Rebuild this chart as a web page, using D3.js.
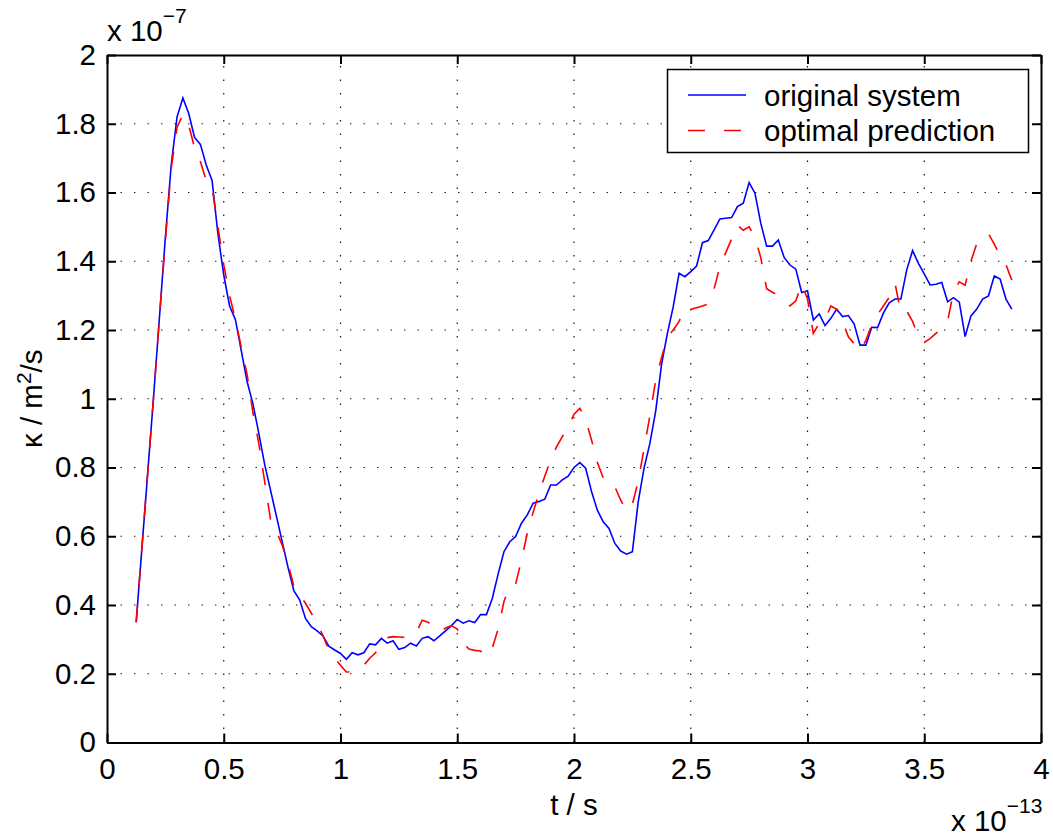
<!DOCTYPE html>
<html>
<head>
<meta charset="utf-8">
<script src="https://cdn.jsdelivr.net/npm/d3@7"></script>
<style>
  html, body { margin: 0; padding: 0; background: #fff; }
  svg { display: block; font-family: "Liberation Sans", Arial, Helvetica, sans-serif; }
</style>
</head>
<body>
<svg id="chart" width="1053" height="836"></svg>
<script>
// Thermal diffusivity kappa (units of 1e-7 m^2/s) sampled every 0.025e-13 s from t = 0.125e-13 s
const tStart = 0.125;
const tStep = 0.025;

const originalSystem = [
  0.35, 0.57, 0.79, 1.01, 1.24, 1.47, 1.68, 1.82, 1.875, 1.83,
  1.76, 1.74, 1.68, 1.635, 1.48, 1.36, 1.27, 1.23, 1.14, 1.05,
  0.985, 0.90, 0.81, 0.735, 0.66, 0.585, 0.51, 0.442, 0.415, 0.361,
  0.337, 0.325, 0.31, 0.28, 0.269, 0.259, 0.242, 0.261, 0.255, 0.261,
  0.287, 0.284, 0.303, 0.289, 0.296, 0.271, 0.276, 0.289, 0.281, 0.303,
  0.308, 0.296, 0.31, 0.325, 0.34, 0.358, 0.347, 0.354, 0.349, 0.372,
  0.372, 0.419, 0.49, 0.555, 0.584, 0.599, 0.638, 0.662, 0.696, 0.701,
  0.708, 0.749, 0.749, 0.764, 0.775, 0.80, 0.814, 0.798, 0.73, 0.676,
  0.642, 0.623, 0.579, 0.557, 0.548, 0.555, 0.70, 0.798, 0.87, 0.965,
  1.10, 1.19, 1.268, 1.365, 1.355, 1.37, 1.386, 1.454, 1.46, 1.491,
  1.523, 1.525, 1.527, 1.559, 1.569, 1.629, 1.598, 1.51, 1.444, 1.444,
  1.462, 1.411, 1.389, 1.377, 1.309, 1.314, 1.229, 1.247, 1.213, 1.234,
  1.261, 1.239, 1.242, 1.217, 1.156, 1.156, 1.208, 1.207, 1.249, 1.279,
  1.29, 1.29, 1.375, 1.431, 1.394, 1.363, 1.331, 1.333, 1.338, 1.282,
  1.294, 1.281, 1.181, 1.241, 1.261, 1.29, 1.299, 1.357, 1.348, 1.29,
  1.261
];

const optimalPrediction = [
  0.35, 0.57, 0.79, 1.01, 1.24, 1.46, 1.67, 1.79, 1.826, 1.796,
  1.73, 1.69, 1.635, 1.615, 1.50, 1.39, 1.30, 1.23, 1.15, 1.07,
  0.96, 0.87, 0.76, 0.65, 0.615, 0.575, 0.52, 0.455, 0.43, 0.405,
  0.376, 0.35, 0.31, 0.27, 0.245, 0.225, 0.205, 0.205, 0.21, 0.225,
  0.245, 0.261, 0.285, 0.305, 0.308, 0.307, 0.306, 0.31, 0.32, 0.356,
  0.35, 0.337, 0.322, 0.333, 0.34, 0.33, 0.29, 0.272, 0.268, 0.266,
  0.25, 0.274, 0.33, 0.41, 0.456, 0.461, 0.53, 0.609, 0.67, 0.725,
  0.775, 0.822, 0.86, 0.89, 0.918, 0.955, 0.972, 0.94, 0.88, 0.815,
  0.77, 0.768, 0.744, 0.705, 0.674, 0.693, 0.76, 0.855, 0.95, 1.055,
  1.12, 1.18, 1.20, 1.225, 1.265, 1.26, 1.265, 1.27, 1.276, 1.32,
  1.385, 1.425, 1.465, 1.505, 1.49, 1.50, 1.47, 1.41, 1.32, 1.31,
  1.30, 1.285, 1.27, 1.285, 1.335, 1.29, 1.19, 1.22, 1.23, 1.27,
  1.26, 1.225, 1.18, 1.16, 1.14, 1.17, 1.215, 1.245, 1.27, 1.295,
  1.335, 1.25, 1.255, 1.225, 1.18, 1.164, 1.175, 1.19, 1.205, 1.225,
  1.31, 1.34, 1.33, 1.40, 1.452, 1.465, 1.48, 1.45, 1.415, 1.39,
  1.345
];

const seriesNames = ["original system", "optimal prediction"];

const xTicks = [0, 0.5, 1, 1.5, 2, 2.5, 3, 3.5, 4];
const xTickLabels = ["0", "0.5", "1", "1.5", "2", "2.5", "3", "3.5", "4"];
const yTicks = [0, 0.2, 0.4, 0.6, 0.8, 1, 1.2, 1.4, 1.6, 1.8, 2];
const yTickLabels = ["0", "0.2", "0.4", "0.6", "0.8", "1", "1.2", "1.4", "1.6", "1.8", "2"];

const svg = d3.select("#chart");
const plotLeft = 107, plotRight = 1041, plotTop = 55, plotBottom = 742.5;
const fontSize = 29.5;
const supSize = 21;

const x = d3.scaleLinear().domain([0, 4]).range([plotLeft, plotRight]);
const y = d3.scaleLinear().domain([0, 2]).range([plotBottom, plotTop]);

const times = originalSystem.map((_, i) => tStart + i * tStep);

// dotted grid
const grid = svg.append("g").attr("stroke", "#111").attr("stroke-width", 1.2)
  .attr("stroke-dasharray", "1.4,12.1");
grid.selectAll("line.gx").data(xTicks.slice(1, -1)).join("line")
  .attr("x1", d => x(d)).attr("x2", d => x(d)).attr("y1", plotBottom).attr("y2", plotTop);
grid.selectAll("line.gy").data(yTicks.slice(1, -1)).join("line")
  .attr("y1", d => y(d)).attr("y2", d => y(d)).attr("x1", plotLeft).attr("x2", plotRight);

// data lines
const line = d3.line().x((d, i) => x(times[i])).y(d => y(d));
svg.append("path").datum(originalSystem)
  .attr("fill", "none").attr("stroke", "#0000ff").attr("stroke-width", 1.6)
  .attr("d", line);
svg.append("path").datum(optimalPrediction)
  .attr("fill", "none").attr("stroke", "#ff0000").attr("stroke-width", 1.6)
  .attr("stroke-dasharray", "17,18").attr("d", line);

// axes with inward ticks
function styleAxis(g) {
  g.select(".domain").attr("stroke", "#000").attr("stroke-width", 2);
  g.selectAll(".tick line").attr("stroke", "#000").attr("stroke-width", 2);
  g.selectAll(".tick text").attr("font-size", fontSize).attr("fill", "#000")
    .attr("font-family", "Liberation Sans, Arial, Helvetica, sans-serif");
}

svg.append("g").attr("transform", `translate(0,${plotBottom})`)
  .call(d3.axisBottom(x).tickValues(xTicks).tickFormat((d, i) => xTickLabels[i])
    .tickSizeInner(-9).tickSizeOuter(0).tickPadding(16))
  .call(styleAxis);
svg.append("g").attr("transform", `translate(0,${plotTop})`)
  .call(d3.axisTop(x).tickValues(xTicks).tickFormat("").tickSizeInner(-9).tickSizeOuter(0))
  .call(styleAxis);
svg.append("g").attr("transform", `translate(${plotLeft},0)`)
  .call(d3.axisLeft(y).tickValues(yTicks).tickFormat((d, i) => yTickLabels[i])
    .tickSizeInner(-9).tickSizeOuter(0).tickPadding(11))
  .call(styleAxis);
svg.append("g").attr("transform", `translate(${plotRight},0)`)
  .call(d3.axisRight(y).tickValues(yTicks).tickFormat("").tickSizeInner(-9).tickSizeOuter(0))
  .call(styleAxis);

// exponent labels
const expY = svg.append("text").attr("x", plotLeft).attr("y", 40.5)
  .attr("font-size", fontSize).attr("fill", "#000");
expY.append("tspan").text("x 10");
expY.append("tspan").attr("dy", -18).attr("font-size", supSize).text("\u22127");

const expX = svg.append("text").attr("x", 951).attr("y", 831)
  .attr("font-size", fontSize).attr("fill", "#000");
expX.append("tspan").text("x 10");
expX.append("tspan").attr("dy", -18).attr("font-size", supSize).text("\u221213");

// axis titles
svg.append("text").attr("x", (plotLeft + plotRight) / 2).attr("y", 815)
  .attr("text-anchor", "middle").attr("font-size", fontSize).text("t / s");

const yTitle = svg.append("text")
  .attr("transform", `translate(42,${(plotTop + plotBottom) / 2}) rotate(-90)`)
  .attr("text-anchor", "middle").attr("font-size", fontSize);
yTitle.append("tspan").text("\u03ba / m");
yTitle.append("tspan").attr("dy", -11).attr("font-size", supSize).text("2");
yTitle.append("tspan").attr("dy", 11).text("/s");

// legend
const legend = svg.append("g");
legend.append("rect").attr("x", 667.5).attr("y", 69.5).attr("width", 361).attr("height", 83)
  .attr("fill", "#fff").attr("stroke", "#000").attr("stroke-width", 1.5);
const legendRows = [
  { name: seriesNames[0], color: "#0000ff", dash: null, y: 95 },
  { name: seriesNames[1], color: "#ff0000", dash: "17,19", y: 130.5 }
];
legendRows.forEach(r => {
  legend.append("line").attr("x1", 688).attr("x2", 746).attr("y1", r.y).attr("y2", r.y)
    .attr("stroke", r.color).attr("stroke-width", 1.6)
    .attr("stroke-dasharray", r.dash);
  legend.append("text").attr("x", 764).attr("y", r.y + 10.5)
    .attr("font-size", fontSize).attr("fill", "#000").text(r.name);
});
</script>
</body>
</html>
